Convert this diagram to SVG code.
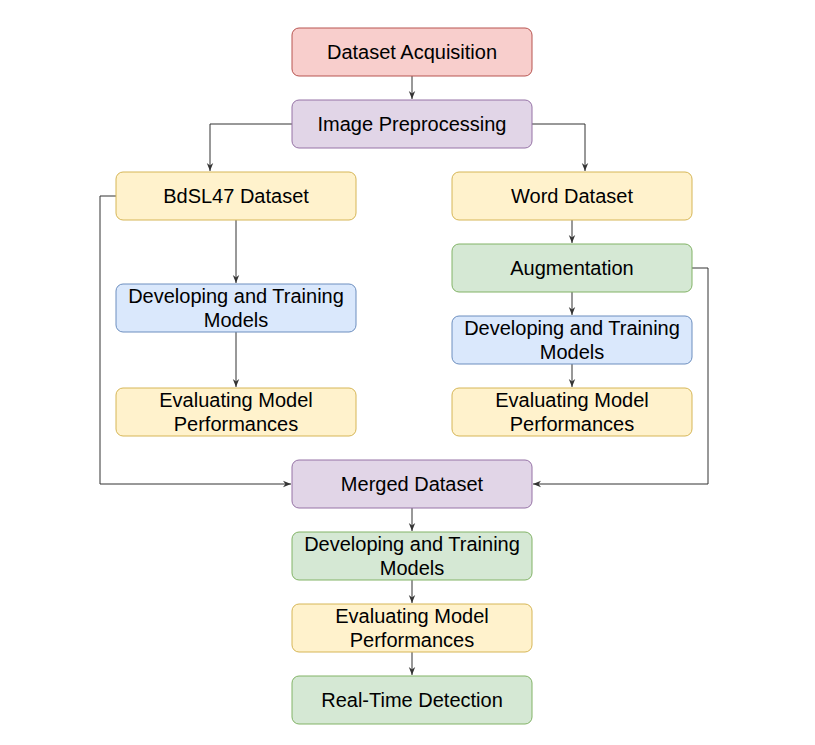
<svg xmlns="http://www.w3.org/2000/svg" width="815" height="745" viewBox="0 0 815 745">
<defs>
<style>
.n rect{stroke-width:1}
.red{fill:#f8cecc;stroke:#b85450}
.pur{fill:#e1d5e7;stroke:#9673a6}
.yel{fill:#fff2cc;stroke:#d6b656}
.grn{fill:#d5e8d4;stroke:#82b366}
.blu{fill:#dae8fc;stroke:#6c8ebf}
text{font-family:"Liberation Sans",Arial,sans-serif;font-size:20px;fill:#000;text-anchor:middle}
.c path{fill:none;stroke:#333;stroke-width:1;marker-end:url(#a)}
</style>
<marker id="a" viewBox="0 0 10 10" refX="10" refY="5" markerWidth="8" markerHeight="8" markerUnits="userSpaceOnUse" orient="auto">
<path d="M0,1 L10,5 L0,9 L3,5 Z" fill="#333"/>
</marker>
</defs>
<rect width="815" height="745" fill="#fff"/>
<g class="c" id="connectors">
<path d="M412,76 V99"/>
<path d="M292,124 H210 V171"/>
<path d="M532,124 H585 V171"/>
<path d="M236,220 V283"/>
<path d="M236,332 V387"/>
<path d="M572,220 V243"/>
<path d="M572,292 V315"/>
<path d="M572,364 V387"/>
<path d="M116,196 H100 V484 H291"/>
<path d="M692,268 H708 V484 H533"/>
<path d="M412,508 V531"/>
<path d="M412,580 V603"/>
<path d="M412,652 V675"/>
</g>
<g class="n" id="acq"><rect class="red" x="292" y="28" width="240" height="48" rx="7"/><text x="412" y="59">Dataset Acquisition</text></g>
<g class="n" id="prep"><rect class="pur" x="292" y="100" width="240" height="48" rx="7"/><text x="412" y="131">Image Preprocessing</text></g>
<g class="n" id="bdsl"><rect class="yel" x="116" y="172" width="240" height="48" rx="7"/><text x="236" y="203">BdSL47 Dataset</text></g>
<g class="n" id="word"><rect class="yel" x="452" y="172" width="240" height="48" rx="7"/><text x="572" y="203">Word Dataset</text></g>
<g class="n" id="aug"><rect class="grn" x="452" y="244" width="240" height="48" rx="7"/><text x="572" y="275">Augmentation</text></g>
<g class="n" id="devL"><rect class="blu" x="116" y="284" width="240" height="48" rx="7"/><text x="236" y="303">Developing and Training</text><text x="236" y="327">Models</text></g>
<g class="n" id="devR"><rect class="blu" x="452" y="316" width="240" height="48" rx="7"/><text x="572" y="335">Developing and Training</text><text x="572" y="359">Models</text></g>
<g class="n" id="evalL"><rect class="yel" x="116" y="388" width="240" height="48" rx="7"/><text x="236" y="407">Evaluating Model</text><text x="236" y="431">Performances</text></g>
<g class="n" id="evalR"><rect class="yel" x="452" y="388" width="240" height="48" rx="7"/><text x="572" y="407">Evaluating Model</text><text x="572" y="431">Performances</text></g>
<g class="n" id="merged"><rect class="pur" x="292" y="460" width="240" height="48" rx="7"/><text x="412" y="491">Merged Dataset</text></g>
<g class="n" id="devB"><rect class="grn" x="292" y="532" width="240" height="48" rx="7"/><text x="412" y="551">Developing and Training</text><text x="412" y="575">Models</text></g>
<g class="n" id="evalB"><rect class="yel" x="292" y="604" width="240" height="48" rx="7"/><text x="412" y="623">Evaluating Model</text><text x="412" y="647">Performances</text></g>
<g class="n" id="rt"><rect class="grn" x="292" y="676" width="240" height="48" rx="7"/><text x="412" y="707">Real-Time Detection</text></g>
</svg>
